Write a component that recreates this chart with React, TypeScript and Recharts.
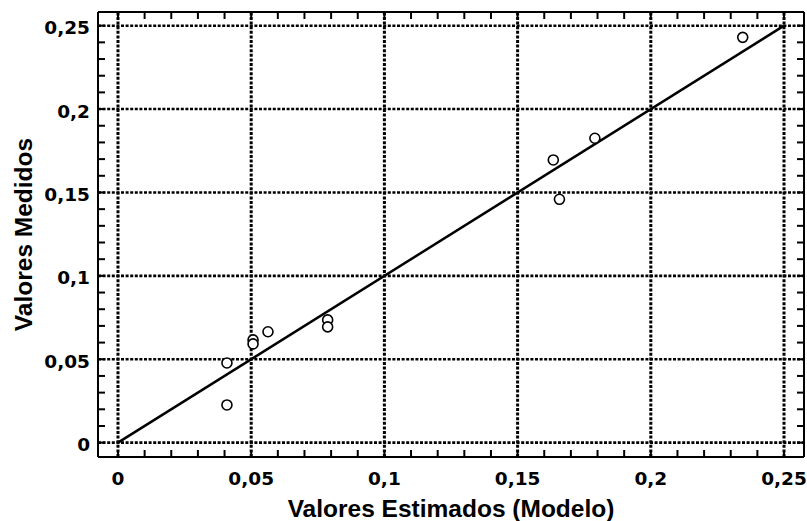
import React from 'react';
import { ScatterChart, Scatter, XAxis, YAxis, ReferenceLine, Label } from 'recharts';

const estimados = [0.0409, 0.0409, 0.0507, 0.0507, 0.0563, 0.0787, 0.0787, 0.1634, 0.1657, 0.179, 0.2345];
const medidos = [0.0478, 0.0226, 0.0616, 0.0592, 0.0665, 0.0736, 0.0694, 0.1695, 0.1459, 0.1825, 0.243];
const majorTicks = [0, 0.05, 0.1, 0.15, 0.2, 0.25];
const tickLabels = ['0', '0,05', '0,1', '0,15', '0,2', '0,25'];
const minorTicks = [0, 0.01, 0.02, 0.03, 0.04, 0.05, 0.06, 0.07, 0.08, 0.09, 0.1, 0.11, 0.12, 0.13, 0.14, 0.15, 0.16, 0.17, 0.18, 0.19, 0.2, 0.21, 0.22, 0.23, 0.24, 0.25];
const lineX = [0, 0.25];
const lineY = [0, 0.25];

const points = estimados.map((x, i) => ({ x, y: medidos[i] }));
const fitLine = lineX.map((x, i) => ({ x, y: lineY[i] }));

const X_DOMAIN: [number, number] = [-0.0075, 0.2575];
const Y_DOMAIN: [number, number] = [-0.0086, 0.2582];

const TICK_FONT = '"DejaVu Sans", sans-serif';
const LABEL_FONT = '"Liberation Sans", Arial, sans-serif';

const majorIndex = (v: number) => majorTicks.findIndex((m) => Math.abs(m - v) < 1e-6);

const BottomTick = (props: any) => {
  const { x, y, payload } = props;
  const idx = majorIndex(payload.value);
  return (
    <g>
      <line x1={x} x2={x} y1={y} y2={y - 7} stroke="#000" strokeWidth={2} />
      {idx >= 0 && (
        <text x={x} y={y + 28} textAnchor="middle" fontFamily={TICK_FONT} fontWeight="bold" fontSize={18.5} fill="#000">
          {tickLabels[idx]}
        </text>
      )}
    </g>
  );
};

const TopTick = (props: any) => {
  const { x, y } = props;
  return <line x1={x} x2={x} y1={y} y2={y + 7} stroke="#000" strokeWidth={2} />;
};

const LeftTick = (props: any) => {
  const { x, y, payload } = props;
  const idx = majorIndex(payload.value);
  return (
    <g>
      <line x1={x} x2={x + 7} y1={y} y2={y} stroke="#000" strokeWidth={2} />
      {idx >= 0 && (
        <text x={x - 8} y={y + 8.5} textAnchor="end" fontFamily={TICK_FONT} fontWeight="bold" fontSize={18.5} fill="#000">
          {tickLabels[idx]}
        </text>
      )}
    </g>
  );
};

const RightTick = (props: any) => {
  const { x, y } = props;
  return <line x1={x} x2={x - 7} y1={y} y2={y} stroke="#000" strokeWidth={2} />;
};

const OpenCircle = (props: any) => {
  const { cx, cy } = props;
  return <circle cx={cx} cy={cy} r={5} fill="#fff" stroke="#000" strokeWidth={1.6} />;
};

const axisLine = { stroke: '#000', strokeWidth: 2 };

export default function App() {
  return (
    <div style={{ width: 807, height: 521 }}>
      <style>{`body { margin: 0; }`}</style>
      <ScatterChart width={807} height={521} margin={{ top: 11, right: 2, left: 0, bottom: 0 }}>
        <XAxis
          xAxisId="b"
          orientation="bottom"
          type="number"
          dataKey="x"
          domain={X_DOMAIN}
          allowDataOverflow
          ticks={minorTicks}
          interval={0}
          tick={BottomTick}
          tickLine={false}
          tickSize={0}
          tickMargin={0}
          axisLine={axisLine}
          height={64}
        >
          <Label
            content={() => (
              <text x={451} y={516.5} textAnchor="middle" fontFamily={LABEL_FONT} fontWeight="bold" fontSize={24.5} fill="#000">
                Valores Estimados (Modelo)
              </text>
            )}
          />
        </XAxis>
        <XAxis
          xAxisId="t"
          orientation="top"
          type="number"
          dataKey="x"
          domain={X_DOMAIN}
          allowDataOverflow
          ticks={minorTicks}
          interval={0}
          tick={TopTick}
          tickLine={false}
          tickSize={0}
          tickMargin={0}
          axisLine={axisLine}
          height={1}
        />
        <YAxis
          yAxisId="l"
          orientation="left"
          type="number"
          dataKey="y"
          domain={Y_DOMAIN}
          allowDataOverflow
          ticks={minorTicks}
          interval={0}
          tick={LeftTick}
          tickLine={false}
          tickSize={0}
          tickMargin={0}
          axisLine={axisLine}
          width={98}
        >
          <Label
            content={() => (
              <text
                x={32}
                y={234.5}
                transform="rotate(-90 32 234.5)"
                textAnchor="middle"
                fontFamily={LABEL_FONT}
                fontWeight="bold"
                fontSize={24.5}
                fill="#000"
              >
                Valores Medidos
              </text>
            )}
          />
        </YAxis>
        <YAxis
          yAxisId="r"
          orientation="right"
          type="number"
          dataKey="y"
          domain={Y_DOMAIN}
          allowDataOverflow
          ticks={minorTicks}
          interval={0}
          tick={RightTick}
          tickLine={false}
          tickSize={0}
          tickMargin={0}
          axisLine={axisLine}
          width={1}
        />
        {majorTicks.map((v) => (
          <ReferenceLine key={'gx' + v} xAxisId="b" yAxisId="l" x={v} stroke="#000" strokeWidth={3} strokeDasharray="3 1.6" />
        ))}
        {majorTicks.map((v) => (
          <ReferenceLine key={'gy' + v} xAxisId="b" yAxisId="l" y={v} stroke="#000" strokeWidth={2.6} strokeDasharray="3 1.6" />
        ))}
        <Scatter
          data={fitLine}
          xAxisId="t"
          yAxisId="r"
          line={{ stroke: '#000', strokeWidth: 2.5 }}
          shape={() => <g />}
          isAnimationActive={false}
        />
        <Scatter data={points} xAxisId="b" yAxisId="l" shape={OpenCircle} isAnimationActive={false} />
      </ScatterChart>
    </div>
  );
}
